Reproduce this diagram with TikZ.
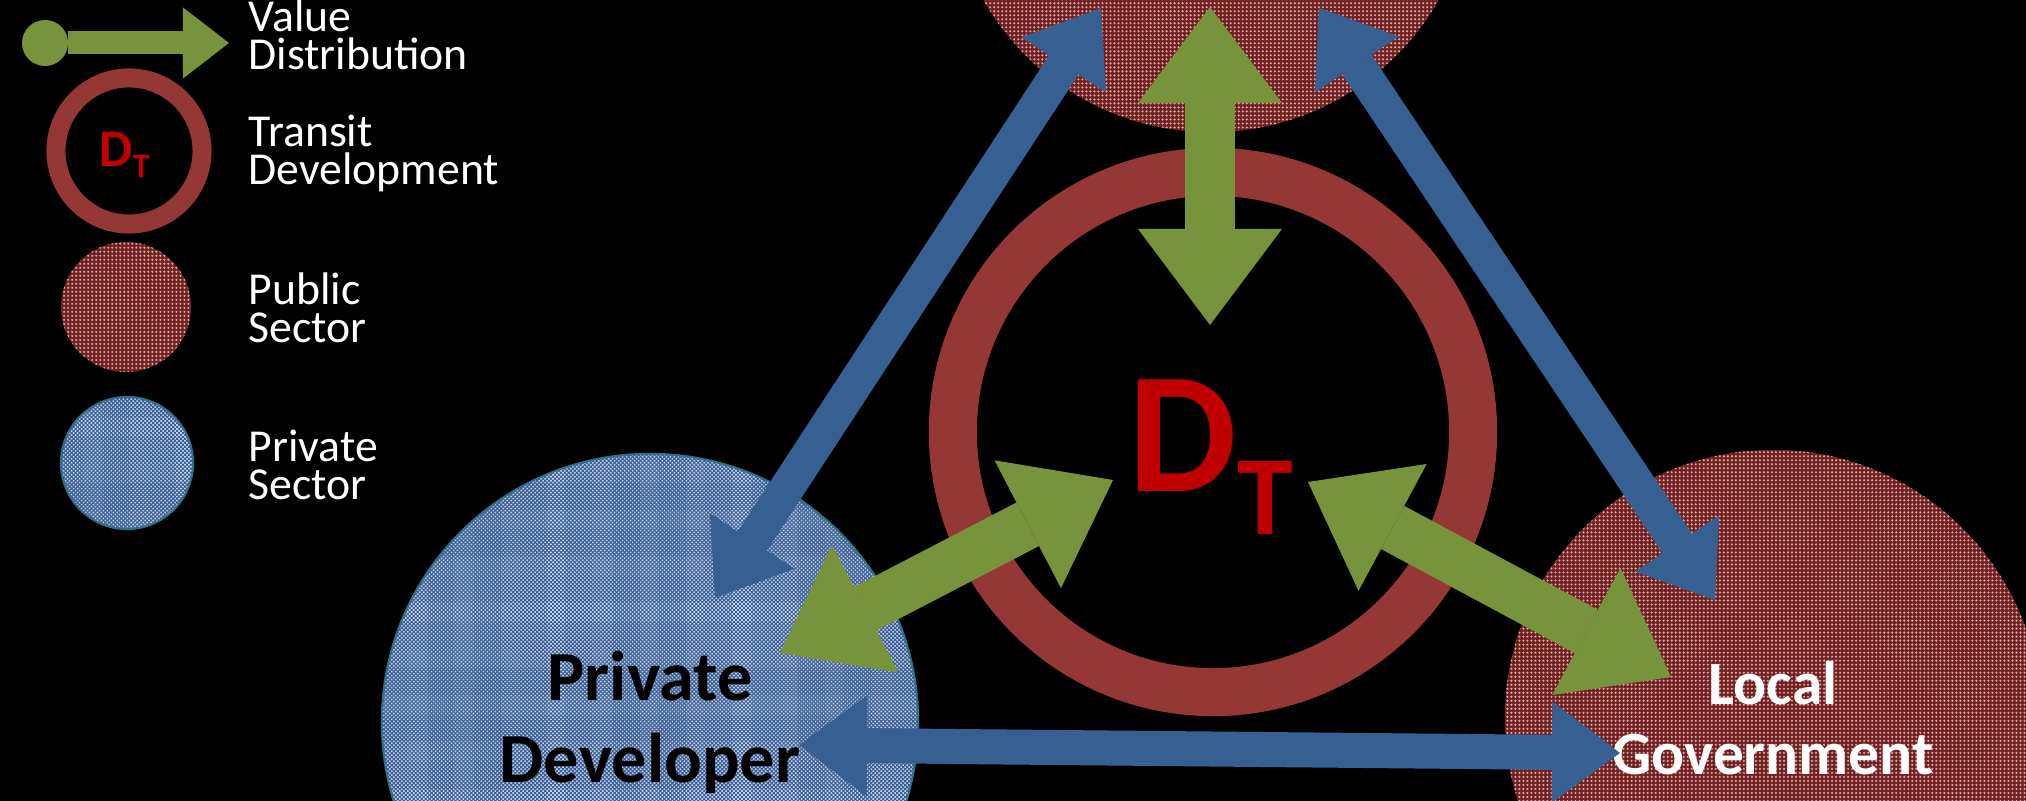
\documentclass[tikz,border=0pt]{standalone}
\usepackage{fontspec}
\setmainfont{Carlito}
\usetikzlibrary{positioning, arrows.meta, patterns.meta}

\definecolor{valgreen}{HTML}{77933C}
\definecolor{linkblue}{HTML}{376092}
\definecolor{ringred}{HTML}{953735}
\definecolor{dtred}{HTML}{C00000}
\definecolor{pubred}{HTML}{6E2222}
\definecolor{pubdot}{HTML}{E3A3A3}
\definecolor{privblue}{HTML}{3C5E92}
\definecolor{privdot}{HTML}{BCD0EC}
\definecolor{privedge}{HTML}{2F7086}

\tikzset{
  public/.style={circle, inner sep=0pt, preaction={fill=pubred}, pattern={Dots[distance=1.14pt,radius=0.34pt]}, pattern color=pubdot},
  private/.style={circle, inner sep=0pt, draw=privedge, line width=0.6pt, preaction={fill=privblue}, pattern={Dots[distance=0.8pt,radius=0.32pt,angle=45]}, pattern color=privdot},
  transit/.style={circle, inner sep=0pt, draw=ringred},
  valarrow/.style={color=valgreen, line width=0.49cm, {Triangle[width=1.44cm,length=0.96cm,line width=0pt]}-{Triangle[width=1.44cm,length=0.96cm,line width=0pt]}},
  linkarrow/.style={color=linkblue, line width=0.35cm, {Triangle[width=1.01cm,length=0.68cm,line width=0pt]}-{Triangle[width=1.01cm,length=0.68cm,line width=0pt]}},
  legend/.style={text=white, align=left, anchor=base west, inner sep=0pt, font=\fontsize{13}{11}\selectfont},
  dtmark/.style={text=dtred, anchor=base west, inner sep=0pt, font=\bfseries}
}

\begin{document}
\begin{tikzpicture}[x=0.01cm, y=-0.01cm]
   \fill[black] (0,0) rectangle (2026,801);
   \useasboundingbox (0,0) rectangle (2026,801);
   \clip (0,0) rectangle (2026,801);

   \node[public, minimum size=5.24cm] (ta) at (1211,-130) {};
   \node[private, minimum size=5.36cm, align=center, font=\bfseries\fontsize{20}{23.3}\selectfont] (pd) at (650,722) {Private\\Developer};
   \node[public, minimum size=5.36cm, align=center, text=white, font=\bfseries\fontsize{17.5}{20}\selectfont] (lg) at (1773,718) {Local\\Government};

   % legend
   \coordinate (lv0) at (22,43);
   \coordinate (lv1) at (229,43);
   \path[color=valgreen, line width=0.23cm, {Circle[length=0.46cm,line width=0pt]}-{Triangle[width=0.71cm,length=0.46cm,line width=0pt]}] (lv0) edge (lv1);
   \node[transit, line width=0.19cm, minimum size=1.46cm] (ldt) at (129,151) {};
   \node[dtmark] (ldtlabel) at (99,167) {\fontsize{15}{15}\selectfont D\raisebox{-2.85pt}{\fontsize{9.7}{9.7}\selectfont T}};
   \node[public, minimum size=1.30cm] (lpub) at (126,307) {};
   \node[private, minimum size=1.32cm] (lpriv) at (127,463) {};
   \node[legend] (lval) at (248,70) {Value\\Distribution};
   \node[legend] (ltd) at (248,185) {Transit\\Development};
   \node[legend] (lps) at (248,343) {Public\\Sector};
   \node[legend] (lpr) at (248,500) {Private\\Sector};

   \node[transit, line width=0.48cm, minimum size=5.2cm] (dt) at (1213,432) {};
   \node[dtmark] (dtlabel) at (1128,492) {\fontsize{49}{49}\selectfont D\raisebox{-11.95pt}{\fontsize{32}{32}\selectfont T}};

   \coordinate (pd1) at (715,598);
   \coordinate (ta1) at (1101,8);
   \coordinate (ta2) at (1319,8);
   \coordinate (lg1) at (1715,600);
   \coordinate (pd2) at (799,745);
   \coordinate (lg2) at (1620,753);
   \coordinate (ta3) at (1210,7);
   \coordinate (dt1) at (1210,325);
   \coordinate (pd3) at (780,653);
   \coordinate (dt2) at (1113,480);
   \coordinate (dt3) at (1308,482);
   \coordinate (lg3) at (1671,677);

   \path[linkarrow]
    (pd1) edge (ta1)
    (ta2) edge (lg1)
    (pd2) edge (lg2);
   \path[valarrow]
    (ta3) edge (dt1)
    (pd3) edge (dt2)
    (dt3) edge (lg3);
\end{tikzpicture}
\end{document}
